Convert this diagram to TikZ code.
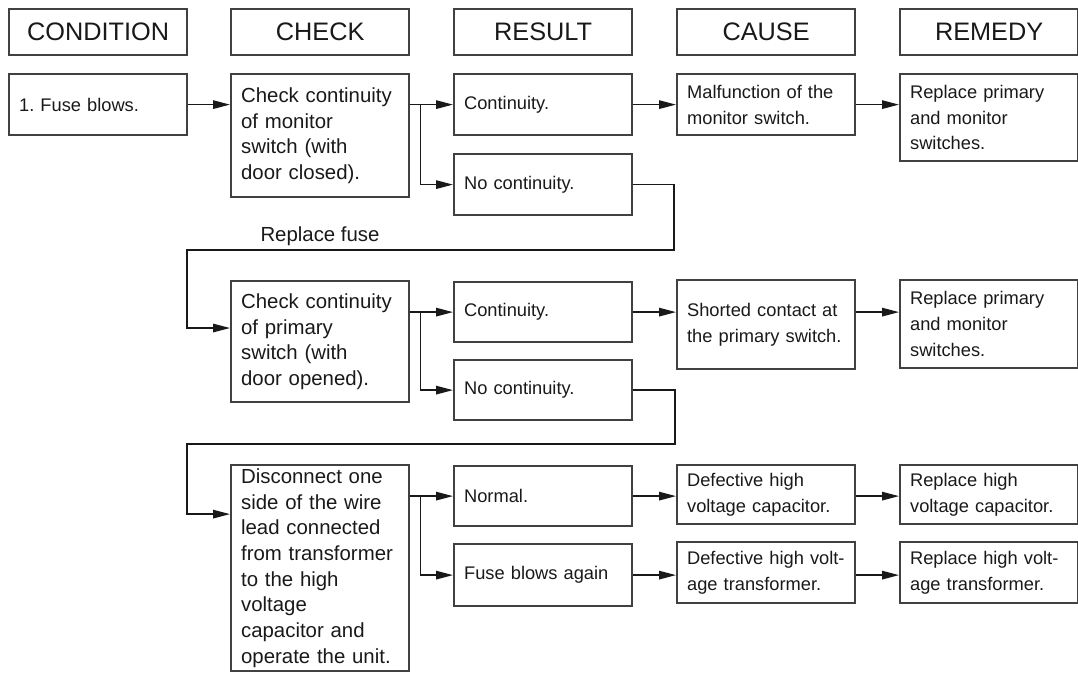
\documentclass[tikz,border=0pt]{standalone}
\usepackage{fontspec}
\setmainfont{Liberation Sans}
\usetikzlibrary{positioning,calc,arrows.meta}
\definecolor{boxgray}{RGB}{65,65,65}
\definecolor{inkgray}{RGB}{25,25,25}

\begin{document}
\begin{tikzpicture}[
    head/.style={rectangle, draw=boxgray, line width=1.6pt, anchor=north west, minimum width=4.45cm, minimum height=1.15cm, inner sep=0pt, text=inkgray, font=\fontsize{18}{21}\selectfont},
    checkbox/.style={rectangle, draw=boxgray, line width=1.6pt, anchor=north west, text width=3.95cm, inner xsep=0.25cm, inner ysep=0.05cm, align=left, text=inkgray, font=\fontsize{14.5}{18.3}\selectfont},
    result/.style={rectangle, draw=boxgray, line width=1.6pt, anchor=north west, text width=3.95cm, inner xsep=0.25cm, inner ysep=0.05cm, align=left, text=inkgray, font=\fontsize{13}{18.3}\selectfont},
    arrow/.style={-{Triangle[length=4.2mm,width=2.1mm]}, line width=1pt, draw=inkgray},
    label/.style={text=inkgray, font=\fontsize{14.5}{17}\selectfont}
]
\useasboundingbox (0,0) rectangle (26.95,16.825);

% === LAYOUT ===
% Columns: left edges x=0.2, 5.75, 11.325, 16.9, 22.475, all 4.45cm wide
% Headers: top y=16.625
% Row 1 top y=15, row 2 top y=9.85, row 3 top y=5.225
% Loops back to the CHECK column at x=4.675

% Column headers
\foreach \txt/\x/\id in {CONDITION/0.2/cond, CHECK/5.75/chk, RESULT/11.325/res, CAUSE/16.9/cause, REMEDY/22.475/rem} {
    \node[head] (\id) at (\x, 16.625) {\txt};
}

% Row 1: fuse blows
\node[result, minimum height=1.525cm] (fuse) at (0.2, 15.0) {1.\ Fuse blows.};
\node[checkbox, minimum height=3.075cm] (check1) at (5.75, 15.0) {Check continuity\\of monitor\\switch (with\\door closed).};
\node[result, minimum height=1.525cm] (cont1) at (11.325, 15.0) {Continuity.};
\node[result, minimum height=1.525cm] (nocont1) at (11.325, 13.0) {No continuity.};
\node[result, minimum height=1.525cm] (malf) at (16.9, 15.0) {Malfunction of the\\monitor switch.};
\node[result, minimum height=2.175cm] (rem1) at (22.475, 15.0) {Replace primary\\and monitor\\switches.};

\draw[arrow] (fuse.east) -- (fuse.east -| check1.west);
\draw[arrow] (check1.east |- cont1.west) -- (cont1.west);
\draw[arrow] ($(check1.east |- cont1.west)+(0.25,0)$) |- (nocont1.west);
\draw[arrow] (cont1.east) -- (malf.west);
\draw[arrow] (malf.east) -- (malf.east -| rem1.west);

% Loop back after replacing the fuse
\node[label] (replace) at (8.0, 10.925) {Replace fuse};
\coordinate (loop1r) at (16.85, 10.575);
\coordinate (loop1l) at (4.675, 10.575);

% Row 2: primary switch
\node[checkbox, minimum height=3.025cm] (check2) at (5.75, 9.825) {Check continuity\\of primary\\switch (with\\door opened).};
\node[result, minimum height=1.5cm] (cont2) at (11.325, 9.8) {Continuity.};
\node[result, minimum height=1.5cm] (nocont2) at (11.325, 7.85) {No continuity.};
\node[result, minimum height=2.225cm] (shorted) at (16.9, 9.85) {Shorted contact at\\the primary switch.};
\node[result, minimum height=2.2cm] (rem2) at (22.475, 9.85) {Replace primary\\and monitor\\switches.};

\draw[arrow] (nocont1.east) -| (loop1r) -- (loop1l) |- ($(check2.west)+(0,0.34)$);
\draw[arrow] (check2.east |- cont2.west) -- (cont2.west);
\draw[arrow] ($(check2.east |- cont2.west)+(0.25,0)$) |- (nocont2.west);
\draw[arrow] (cont2.east) -- (cont2.east -| shorted.west);
\draw[arrow] (shorted.east |- cont2.east) -- (rem2.west |- cont2.east);

% Row 3: high voltage parts
\coordinate (loop2r) at (16.875, 5.725);
\coordinate (loop2l) at (4.675, 5.725);
\node[checkbox, minimum height=5.15cm] (disc) at (5.75, 5.225) {Disconnect one\\side of the wire\\lead connected\\from transformer\\to the high\\voltage\\capacitor and\\operate the unit.};
\node[result, minimum height=1.5cm] (normal) at (11.325, 5.2) {Normal.};
\node[result, minimum height=1.55cm] (again) at (11.325, 3.25) {Fuse blows again};
\node[result, minimum height=1.475cm] (defcap) at (16.9, 5.225) {Defective high\\voltage capacitor.};
\node[result, minimum height=1.475cm] (repcap) at (22.475, 5.225) {Replace high\\voltage capacitor.};
\node[result, minimum height=1.525cm] (deftrans) at (16.9, 3.3) {Defective high volt-\\age transformer.};
\node[result, minimum height=1.525cm] (reptrans) at (22.475, 3.3) {Replace high volt-\\age transformer.};

\draw[arrow] (nocont2.east) -| (loop2r) -- (loop2l) |- ($(disc.west)+(0,1.35)$);
\draw[arrow] (disc.east |- normal.west) -- (normal.west);
\draw[arrow] ($(disc.east |- normal.west)+(0.25,0)$) |- (again.west);
\draw[arrow] (normal.east) -- (normal.east -| defcap.west);
\draw[arrow] (defcap.east |- normal.east) -- (repcap.west |- normal.east);
\draw[arrow] (again.east) -- (again.east -| deftrans.west);
\draw[arrow] (deftrans.east |- again.east) -- (reptrans.west |- again.east);

\end{tikzpicture}
\end{document}
